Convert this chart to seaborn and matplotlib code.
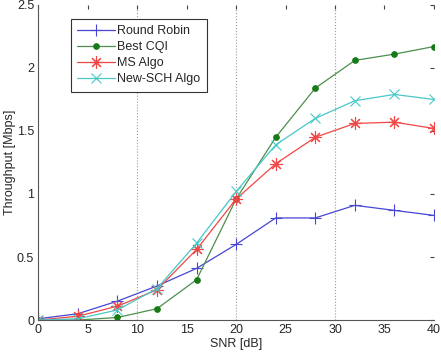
import seaborn as sns
import matplotlib.pyplot as plt
import pandas as pd

# SNR sweep and throughput values (Mbps)
snr = [0, 4, 8, 12, 16, 20, 24, 28, 32, 36, 40]
round_robin = [0.01, 0.05, 0.15, 0.27, 0.41, 0.60, 0.81, 0.81, 0.91, 0.87, 0.83]
best_cqi = [0.0, 0.0, 0.02, 0.09, 0.32, 0.96, 1.45, 1.84, 2.06, 2.11, 2.17]
ms_algo = [0.0, 0.03, 0.11, 0.24, 0.56, 0.96, 1.24, 1.45, 1.56, 1.57, 1.52]
new_sch = [0.0, 0.01, 0.08, 0.25, 0.61, 1.02, 1.39, 1.60, 1.74, 1.79, 1.75]

series_names = ["Round Robin", "Best CQI", "MS Algo", "New-SCH Algo"]
series_values = [round_robin, best_cqi, ms_algo, new_sch]
grid_x = [10, 20, 30]

x_ticks = [0, 5, 10, 15, 20, 25, 30, 35, 40]
y_ticks = [0, 0.5, 1, 1.5, 2, 2.5]
y_tick_labels = ["0", "0.5", "1", "1.5", "2", "2.5"]

df = pd.DataFrame({"SNR": snr * 4,
                   "Throughput": sum(series_values, []),
                   "Scheme": [n for n in series_names for _ in snr]})

sns.set_style("white")
plt.rcParams["font.family"] = ["Liberation Sans", "DejaVu Sans"]

fig = plt.figure(figsize=(4.41, 3.54), dpi=100)
ax = fig.add_axes([0.087, 0.096, 0.897, 0.890])

# MATLAB-like marker styles; '*' is an 8-spoke asterisk there
styles = {
    "Round Robin": dict(color="#4646d2", mec="#4646d2", marker="+", ms=8, lw=0.9),
    "Best CQI": dict(color="#4c8f4c", mec="#167a16", marker="o", ms=4, lw=0.9),
    "MS Algo": dict(color="#f24646", mec="#f24646", marker=(8, 2, 0), ms=9, lw=0.9),
    "New-SCH Algo": dict(color="#48c8c8", mec="#48c8c8", marker="x", ms=7, lw=0.9),
}

for x in grid_x:
    ax.axvline(x, color="#9a9a9a", linestyle=":", linewidth=0.8, zorder=0)

for name in series_names:
    st = styles[name]
    sns.lineplot(data=df[df["Scheme"] == name], x="SNR", y="Throughput",
                 color=st["color"], marker=st["marker"], markersize=st["ms"],
                 markeredgecolor=st["mec"], markerfacecolor=st["mec"],
                 markeredgewidth=0.8, linewidth=st["lw"], label=name, ax=ax)

ax.set_xlim(0, 40)
ax.set_ylim(0, 2.5)
ax.set_xticks(x_ticks)
ax.set_yticks(y_ticks)
ax.set_yticklabels(y_tick_labels)
ax.set_xlabel("SNR [dB]", fontsize=9, labelpad=1)
ax.set_ylabel("Throughput [Mbps]", fontsize=9, labelpad=1)
ax.tick_params(direction="in", length=3, labelsize=9, color="#444444",
               top=True, right=True, pad=3)

for side in ["top", "right"]:
    ax.spines[side].set_visible(False)
for side in ["left", "bottom"]:
    ax.spines[side].set_color("#555555")
    ax.spines[side].set_linewidth(0.8)

leg = ax.legend(loc="upper left", bbox_to_anchor=(0.083, 0.956), fontsize=9,
                frameon=True, fancybox=False, framealpha=1, borderpad=0.5,
                handlelength=3.0, handletextpad=0.2, labelspacing=0.33,
                borderaxespad=0)
leg.get_frame().set_edgecolor("#333333")
leg.get_frame().set_linewidth(0.8)

plt.savefig("out.png", dpi=100)
